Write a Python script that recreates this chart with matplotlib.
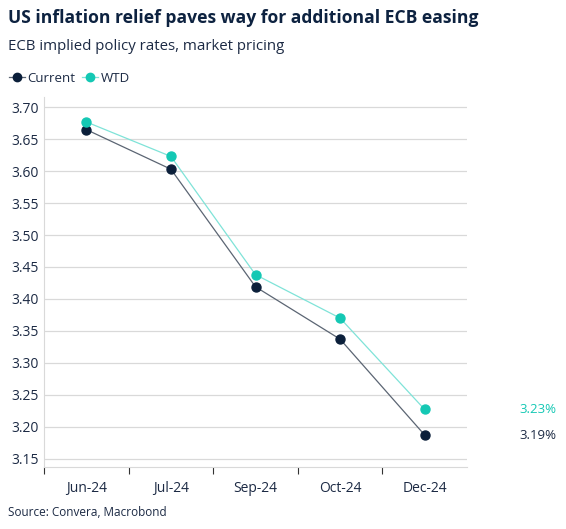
import matplotlib
matplotlib.use("Agg")
import matplotlib.pyplot as plt
from matplotlib.lines import Line2D

categories = ["Jun-24", "Jul-24", "Sep-24", "Oct-24", "Dec-24"]
current = [3.665, 3.603, 3.419, 3.337, 3.187]
wtd = [3.677, 3.623, 3.438, 3.370, 3.227]
yticks = [3.15, 3.20, 3.25, 3.30, 3.35, 3.40, 3.45, 3.50, 3.55, 3.60, 3.65, 3.70]

NAVY = "#0b1f3a"
NAVY_LINE = "#5b6573"
TEAL = "#14c8b4"
TEAL_LINE = "#7fe3d8"
TXT = "#1c2a44"
GRID = "#d9d9d9"

plt.rcParams['font.family'] = ['Open Sans', 'DejaVu Sans']

fig = plt.figure(figsize=(5.66, 5.29), dpi=100)
ax = fig.add_axes([44/566, 1-467/529, (467-44)/566, (467-97)/529])

x = list(range(len(categories)))
ax.plot(x, current, color=NAVY_LINE, lw=0.9, zorder=3)
ax.scatter(x, current, color=NAVY, s=42, zorder=4)
ax.plot(x, wtd, color=TEAL_LINE, lw=0.9, zorder=3)
ax.scatter(x, wtd, color=TEAL, s=42, zorder=4)

ax.set_xlim(-0.5, 4.5)
ax.set_ylim(3.137, 3.716)
ax.set_yticks(yticks)
ax.set_yticklabels([f"{v:.2f}" for v in yticks])
ax.set_xticks(x)
ax.set_xticklabels(categories)
ax.set_xticks([-0.5, 0.5, 1.5, 2.5, 3.5], minor=True)
ax.tick_params(axis='x', which='major', length=0, pad=10, labelsize=10, labelcolor=TXT)
ax.tick_params(axis='x', which='minor', length=5, color="#333333", width=0.8)
ax.tick_params(axis='y', length=0, pad=4, labelsize=10, labelcolor=TXT)
ax.grid(axis='y', color=GRID, lw=0.9)
ax.set_axisbelow(True)
for s in ['top', 'right']:
    ax.spines[s].set_visible(False)
ax.spines['left'].set_color(GRID)
ax.spines['bottom'].set_color(GRID)

ax.annotate(f"{wtd[-1]:.2f}%", xy=(1.0, wtd[-1]), xycoords=('axes fraction', 'data'),
            xytext=(38, 0), textcoords='offset points', color=TEAL, fontsize=9.5,
            ha='left', va='center')
ax.annotate(f"{current[-1]:.2f}%", xy=(1.0, current[-1]), xycoords=('axes fraction', 'data'),
            xytext=(38, 0), textcoords='offset points', color=TXT, fontsize=9.5,
            ha='left', va='center')

fig.text(8/566, 1-18/529, "US inflation relief paves way for additional ECB easing",
         fontsize=12.6, fontweight='bold', color="#0d2240", ha='left', va='center')
fig.text(8/566, 1-47/529, "ECB implied policy rates, market pricing",
         fontsize=10.8, color=TXT, ha='left', va='center')

handles = [Line2D([], [], color=NAVY_LINE, lw=0.9, marker='o', markersize=6,
                  markerfacecolor=NAVY, markeredgecolor=NAVY),
           Line2D([], [], color=TEAL_LINE, lw=0.9, marker='o', markersize=6,
                  markerfacecolor=TEAL, markeredgecolor=TEAL)]
fig.legend(handles, ["Current", "WTD"], loc='center left', bbox_to_anchor=(0, 1-78/529),
           ncol=2, frameon=False, fontsize=9.5, handlelength=1.2, handletextpad=0.2,
           columnspacing=0.5, labelcolor=TXT, borderaxespad=0.3)

fig.text(8/566, 1-512/529, "Source: Convera, Macrobond", fontsize=8.5, color=TXT,
         ha='left', va='center')

fig.savefig("out.png", dpi=100)
